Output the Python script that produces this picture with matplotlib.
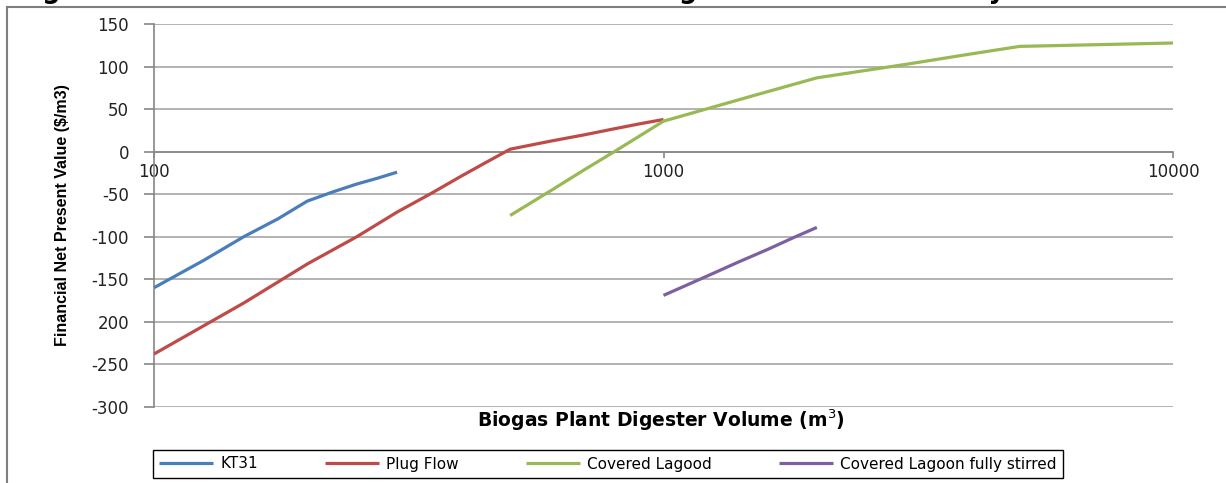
import matplotlib
matplotlib.use("Agg")
import matplotlib.pyplot as plt
from matplotlib.lines import Line2D
from matplotlib.ticker import FixedLocator, FixedFormatter, NullLocator

# digester volume (m3) and financial NPV ($/m3) per plant type
kt31_vol = [100, 125, 150, 175, 200, 225, 250, 275, 300]
kt31_npv = [-160, -128, -100, -79, -58, -47, -38, -31, -24]

plug_vol = [100, 150, 200, 250, 300, 350, 400, 450, 500, 600, 700, 800, 900, 1000]
plug_npv = [-238, -178, -132, -100, -71, -49, -29, -12, 3, 12.5, 20, 27, 33, 38]

lagoon_vol = [500, 600, 700, 800, 900, 1000, 1500, 2000, 3000, 4000, 5000, 10000]
lagoon_npv = [-75, -46, -21, 0, 19, 36, 66, 87, 103, 115, 124, 128]

stirred_vol = [1000, 1200, 1400, 1600, 1800, 2000]
stirred_npv = [-169, -148, -130, -115, -101, -89]

series_names = ["KT31", "Plug Flow", "Covered Lagood", "Covered Lagoon fully stirred"]
series_colors = ["#4A7EBB", "#BE4B48", "#98B954", "#7D60A0"]

y_ticks = [150, 100, 50, 0, -50, -100, -150, -200, -250, -300]
y_tick_labels = ["150", "100", "50", "0", "-50", "-100", "-150", "200", "-250", "-300"]
x_ticks = [100, 1000, 10000]
x_tick_labels = ["100", "1000", "10000"]

title = "Figure 13: Estimated Net Present Value of Biogas Plants with 30 day Retention Time"

W, H = 1226, 483
fig = plt.figure(figsize=(W / 100, H / 100), dpi=100)
ax = fig.add_axes([154 / W, 1 - 406.7 / H, (1173 - 154) / W, (406.7 - 24.3) / H])

grid_col = "#a6a6a6"
axis_col = "#868686"

for vol, npv, name, col in zip(
    [kt31_vol, plug_vol, lagoon_vol, stirred_vol],
    [kt31_npv, plug_npv, lagoon_npv, stirred_npv],
    series_names, series_colors,
):
    ax.plot(vol, npv, color=col, lw=2.3, label=name, solid_capstyle="butt", zorder=3)

ax.set_xscale("log")
ax.set_xlim(100, 10000)
ax.set_ylim(-300, 150)

ax.yaxis.set_major_locator(FixedLocator(y_ticks))
ax.yaxis.set_major_formatter(FixedFormatter(y_tick_labels))
ax.xaxis.set_major_locator(FixedLocator(x_ticks))
ax.xaxis.set_major_formatter(FixedFormatter(x_tick_labels))
ax.xaxis.set_minor_locator(NullLocator())

ax.grid(axis="y", color=grid_col, lw=1.2, zorder=0)
ax.set_axisbelow(True)

for s in ["top", "right"]:
    ax.spines[s].set_visible(False)
ax.spines["bottom"].set_position(("data", 0))
ax.spines["bottom"].set_color(axis_col)
ax.spines["left"].set_color(axis_col)
ax.spines["bottom"].set_linewidth(1.2)
ax.spines["left"].set_linewidth(1.2)

ax.tick_params(axis="y", length=7, width=1.2, color=axis_col, pad=11,
               labelsize=12, labelcolor="#222222")
ax.tick_params(axis="x", length=4, width=1.2, color=axis_col, pad=4,
               labelsize=12, labelcolor="#222222")

fig.text(661 / W, 1 - 420 / H, "Biogas Plant Digester Volume (m$^3$)",
         ha="center", va="center", fontsize=13.5, fontweight="bold")
fig.text(63 / W, 1 - 215 / H, "Financial Net Present Value ($/m3)",
         ha="center", va="center", rotation=90, fontsize=11.5, fontweight="bold",
         family=["Liberation Sans Narrow", "Liberation Sans", "DejaVu Sans"])

leg = ax.legend(loc="center", bbox_to_anchor=(153 / W, 1 - 481 / H, 910 / W, 34 / H),
                bbox_transform=fig.transFigure, ncol=4, mode="expand",
                fontsize=11, handlelength=3.5, handletextpad=0.5,
                borderaxespad=0, borderpad=0.4, fancybox=False, framealpha=1)
leg.get_frame().set_edgecolor("black")
leg.get_frame().set_linewidth(1.0)

# outer chart frame, open towards right and bottom
fig.add_artist(Line2D([7 / W, 7 / W], [0, 1 - 7 / H], color="#7f7f7f", lw=1.5))
fig.add_artist(Line2D([7 / W, 1], [1 - 7 / H, 1 - 7 / H], color="#7f7f7f", lw=1.5))

# figure caption sits above the chart frame, only its lowest strokes show
fig.text(16 / W, 1 + 2 / H, title, ha="left", va="baseline",
         fontsize=18.4, fontweight="bold", color="black")

fig.savefig("out.png", dpi=100)
